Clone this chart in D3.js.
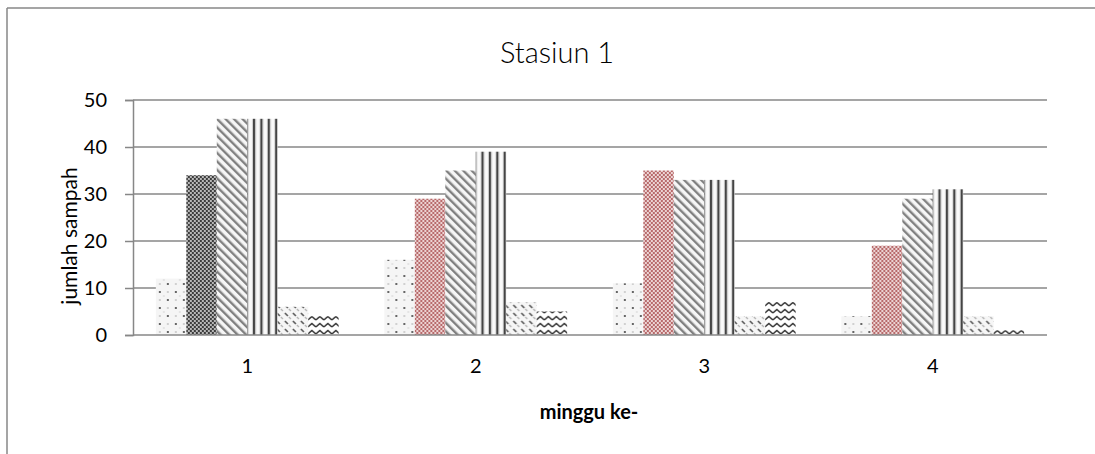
<!DOCTYPE html>
<html>
<head>
<meta charset="utf-8">
<script src="https://cdn.jsdelivr.net/npm/d3@7"></script>
<style>
  html, body { margin: 0; padding: 0; background: #fff; }
  text { font-family: Lato, "Open Sans", "DejaVu Sans", sans-serif; fill: #000; }
</style>
</head>
<body>
<script>
const categories = ["1", "2", "3", "4"];
const seri1 = [12, 16, 11, 4];
const seri2 = [34, 29, 35, 19];
const seri3 = [46, 35, 33, 29];
const seri4 = [46, 39, 33, 31];
const seri5 = [6, 7, 4, 4];
const seri6 = [4, 5, 7, 1];
const yTicks = [0, 10, 20, 30, 40, 50];

const series = [seri1, seri2, seri3, seri4, seri5, seri6];
const patterns = ["dots", "checkRed", "diag", "vert", "wave", "zigzag"];

const W = 1095, H = 454;
const mLeft = 133, mRight = 1047, mTop = 100, mBottom = 335;

const svg = d3.select("body").append("svg").attr("width", W).attr("height", H);
const defs = svg.append("defs");

// patterns
const pDots = defs.append("pattern").attr("id", "dots").attr("patternUnits", "userSpaceOnUse")
  .attr("width", 16).attr("height", 16);
pDots.append("rect").attr("width", 16).attr("height", 16).attr("fill", "#f5f5f5");
[[4, 4, "#666"], [12, 12, "#666"], [12, 4, "#d0d0d0"], [4, 12, "#d0d0d0"], [8, 8, "#e4e4e4"]].forEach(d => {
  pDots.append("rect").attr("x", d[0] - 1).attr("y", d[1] - 1).attr("width", 2).attr("height", 2).attr("fill", d[2]);
});

function checker(id, bg, fg) {
  const p = defs.append("pattern").attr("id", id).attr("patternUnits", "userSpaceOnUse")
    .attr("width", 4).attr("height", 4);
  p.append("rect").attr("width", 4).attr("height", 4).attr("fill", bg);
  p.append("rect").attr("width", 2).attr("height", 2).attr("fill", fg);
  p.append("rect").attr("x", 2).attr("y", 2).attr("width", 2).attr("height", 2).attr("fill", fg);
}
checker("checkRed", "#ecd4d4", "#b86a6b");
checker("checkDark", "#b8b8b8", "#3c3c3c");

const pDiag = defs.append("pattern").attr("id", "diag").attr("patternUnits", "userSpaceOnUse")
  .attr("width", 6).attr("height", 6).attr("patternTransform", "rotate(-45)");
pDiag.append("rect").attr("width", 6).attr("height", 6).attr("fill", "#f6f6f6");
pDiag.append("rect").attr("width", 2.4).attr("height", 6).attr("fill", "#808080");

const pVert = defs.append("pattern").attr("id", "vert").attr("patternUnits", "userSpaceOnUse")
  .attr("width", 7.4).attr("height", 10).attr("x", 1);
pVert.append("rect").attr("width", 7.4).attr("height", 10).attr("fill", "#fafafa");
pVert.append("rect").attr("x", 0).attr("width", 2).attr("height", 10).attr("fill", "#444");
pVert.append("rect").attr("x", 2).attr("width", 1).attr("height", 10).attr("fill", "#bbb");
pVert.append("rect").attr("x", 6.4).attr("width", 1).attr("height", 10).attr("fill", "#ccc");

const pWave = defs.append("pattern").attr("id", "wave").attr("patternUnits", "userSpaceOnUse")
  .attr("width", 8).attr("height", 8);
pWave.append("rect").attr("width", 8).attr("height", 8).attr("fill", "#f6f6f6");
pWave.append("path").attr("d", "M1,1 L4,4").attr("stroke", "#555").attr("stroke-width", 1.6);
pWave.append("path").attr("d", "M5,5 L7,7").attr("stroke", "#b0b0b0").attr("stroke-width", 1.2);

const pZig = defs.append("pattern").attr("id", "zigzag").attr("patternUnits", "userSpaceOnUse")
  .attr("width", 8).attr("height", 7);
pZig.append("rect").attr("width", 8).attr("height", 7).attr("fill", "#fff");
pZig.append("path").attr("d", "M0,5 L4,1.5 L8,5").attr("fill", "none")
  .attr("stroke", "#333").attr("stroke-width", 1.6);

// frame
svg.append("line").attr("x1", 7).attr("y1", 8).attr("x2", W).attr("y2", 8)
  .attr("stroke", "#878787").attr("stroke-width", 1.5);
svg.append("line").attr("x1", 7).attr("y1", 8).attr("x2", 7).attr("y2", H)
  .attr("stroke", "#878787").attr("stroke-width", 1.5);

const x = d3.scaleBand().domain(categories).range([mLeft, mRight]).paddingInner(0.2).paddingOuter(0.1);
const xOuter = d3.scaleBand().domain(categories).range([mLeft, mRight]);
const xs = d3.scaleBand().domain(d3.range(series.length)).range([0, x.bandwidth()]);
const y = d3.scaleLinear().domain([0, 50]).range([mBottom, mTop]);

// grid
svg.append("g").selectAll("line").data(yTicks.slice(1)).join("line")
  .attr("x1", mLeft).attr("x2", mRight)
  .attr("y1", d => y(d)).attr("y2", d => y(d))
  .attr("stroke", "#878787").attr("stroke-width", 1.5);

const yAxis = svg.append("g").attr("transform", `translate(${mLeft},0)`)
  .call(d3.axisLeft(y).tickValues(yTicks).tickSize(8).tickPadding(18));
yAxis.select(".domain").attr("stroke", "#878787").attr("stroke-width", 1.5);
yAxis.selectAll(".tick line").attr("stroke", "#878787").attr("stroke-width", 1.5);
yAxis.selectAll(".tick text").attr("font-size", 20).attr("fill", "#000")
  .style("font-family", "Lato, 'Open Sans', sans-serif");

// bars
const groups = svg.append("g").selectAll("g").data(categories).join("g")
  .attr("transform", d => `translate(${xOuter(d) + (xOuter.bandwidth() - x.bandwidth()) / 2},0)`);

groups.selectAll("rect")
  .data((c, i) => series.map((s, k) => ({ k: k, cat: i, v: s[i] })))
  .join("rect")
  .attr("x", d => xs(d.k))
  .attr("width", xs.bandwidth())
  .attr("y", d => y(d.v))
  .attr("height", d => y(0) - y(d.v))
  .attr("fill", d => (d.k === 1 && d.cat === 0) ? "url(#checkDark)" : `url(#${patterns[d.k]})`);

// x axis baseline
svg.append("line").attr("x1", mLeft).attr("x2", mRight).attr("y1", mBottom).attr("y2", mBottom)
  .attr("stroke", "#878787").attr("stroke-width", 1.5);

const xAxis = svg.append("g").attr("transform", `translate(0,${mBottom})`)
  .call(d3.axisBottom(xOuter).tickSize(0).tickPadding(24));
xAxis.select(".domain").remove();
xAxis.selectAll(".tick text").attr("font-size", 20).attr("fill", "#000")
  .style("font-family", "Lato, 'Open Sans', sans-serif");

// titles
svg.append("text").attr("x", 557).attr("y", 63).attr("text-anchor", "middle")
  .attr("font-size", 29).attr("font-weight", 300).text("Stasiun 1");

svg.append("text").attr("transform", "translate(77,236) rotate(-90)")
  .attr("text-anchor", "middle").attr("font-size", 21).text("jumlah sampah");

svg.append("text").attr("x", 589).attr("y", 419).attr("text-anchor", "middle")
  .attr("font-size", 20).attr("font-weight", "bold").text("minggu ke-");
</script>
</body>
</html>
